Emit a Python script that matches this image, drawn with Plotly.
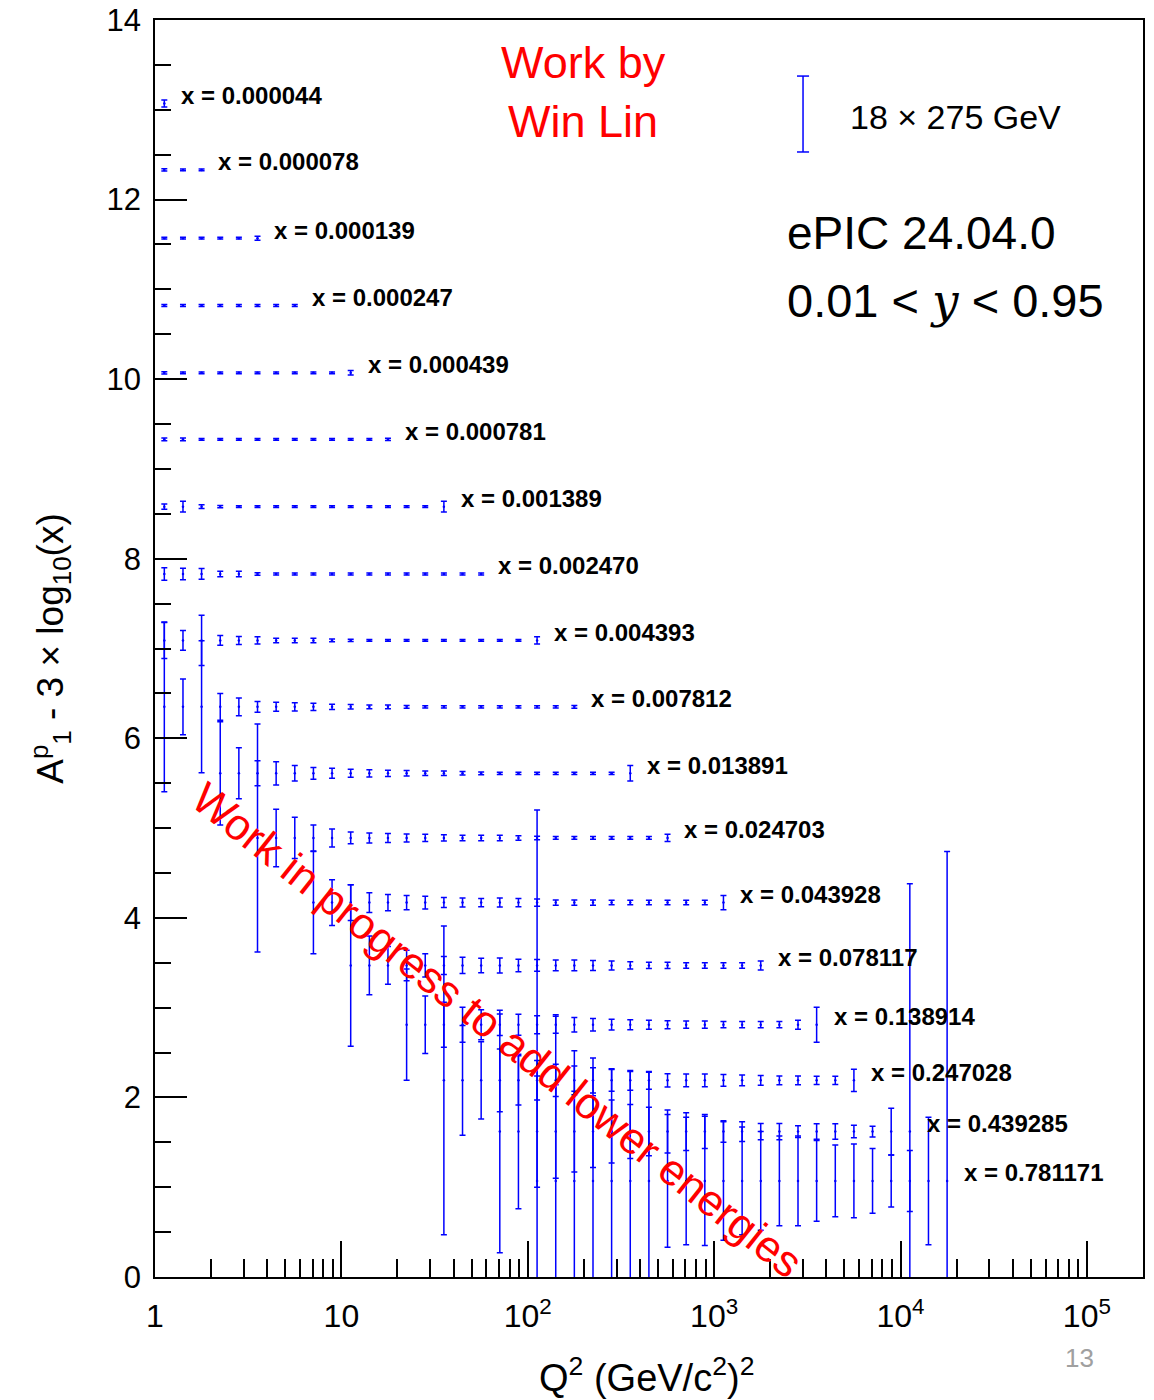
import plotly.graph_objects as go
import math

# Q^2 bin centres (GeV^2)
Q2_CENTERS = [1.122, 1.413, 1.778, 2.239, 2.818, 3.548, 4.467, 5.623, 7.079, 8.913,
              11.22, 14.13, 17.78, 22.39, 28.18, 35.48, 44.67, 56.23, 70.79, 89.13,
              112.2, 141.3, 177.8, 223.9, 281.8, 354.8, 446.7, 562.3, 707.9, 891.3,
              1122, 1413, 1778, 2239, 2818, 3548, 4467, 5623, 7079, 8913,
              11220, 14125, 17783]

ROW_X = ["0.000044", "0.000078", "0.000139", "0.000247", "0.000439", "0.000781",
         "0.001389", "0.002470", "0.004393", "0.007812", "0.013891", "0.024703",
         "0.043928", "0.078117", "0.138914", "0.247028", "0.439285", "0.781171"]

ROW_FIRST_BIN = [0, 0, 0, 0, 0, 0, 0, 0, 0, 0, 3, 5, 8, 10, 13, 15, 18, 20]

ROW_Y = [
    [13.07],
    [12.33, 12.33, 12.33],
    [11.57, 11.57, 11.57, 11.57, 11.57, 11.57],
    [10.82, 10.82, 10.82, 10.82, 10.82, 10.82, 10.82, 10.82],
    [10.07, 10.07, 10.07, 10.07, 10.07, 10.07, 10.07, 10.07, 10.07, 10.07, 10.07],
    [9.33, 9.33, 9.33, 9.33, 9.33, 9.33, 9.33, 9.33, 9.33, 9.33, 9.33, 9.33, 9.33],
    [8.58, 8.58, 8.58, 8.58, 8.58, 8.58, 8.58, 8.58, 8.58, 8.58, 8.58, 8.58, 8.58, 8.58, 8.58, 8.58],
    [7.83, 7.83, 7.83, 7.83, 7.83, 7.83, 7.83, 7.83, 7.83, 7.83, 7.83, 7.83, 7.83, 7.83, 7.83, 7.83,
     7.83, 7.83],
    [7.09, 7.09, 7.09, 7.09, 7.09, 7.09, 7.09, 7.09, 7.09, 7.09, 7.09, 7.09, 7.09, 7.09, 7.09, 7.09,
     7.09, 7.09, 7.09, 7.09, 7.09],
    [6.35, 6.35, 6.35, 6.35, 6.35, 6.35, 6.35, 6.35, 6.35, 6.35, 6.35, 6.35, 6.35, 6.35, 6.35, 6.35,
     6.35, 6.35, 6.35, 6.35, 6.35, 6.35, 6.35],
    [5.61, 5.61, 5.61, 5.61, 5.61, 5.61, 5.61, 5.61, 5.61, 5.61, 5.61, 5.61, 5.61, 5.61, 5.61, 5.61,
     5.61, 5.61, 5.61, 5.61, 5.61, 5.61, 5.61],
    [4.89, 4.89, 4.89, 4.89, 4.89, 4.89, 4.89, 4.89, 4.89, 4.89, 4.89, 4.89, 4.89, 4.89, 4.89, 4.89,
     4.89, 4.89, 4.89, 4.89, 4.89, 4.89, 4.89],
    [4.17, 4.17, 4.17, 4.17, 4.17, 4.17, 4.17, 4.17, 4.17, 4.17, 4.17, 4.17, 4.17, 4.17, 4.17, 4.17,
     4.17, 4.17, 4.17, 4.17, 4.17, 4.17, 4.17],
    [3.47, 3.47, 3.47, 3.47, 3.47, 3.47, 3.47, 3.47, 3.47, 3.47, 3.47, 3.47, 3.47, 3.47, 3.47, 3.47,
     3.47, 3.47, 3.47, 3.47, 3.47, 3.47, 3.47],
    [2.81, 2.81, 2.81, 2.81, 2.81, 2.81, 2.81, 2.81, 2.81, 2.81, 2.81, 2.81, 2.81, 2.81, 2.81, 2.81,
     2.81, 2.81, 2.81, 2.81, 2.81, 2.81, 2.81],
    [2.19, 2.19, 2.19, 2.19, 2.19, 2.19, 2.19, 2.19, 2.19, 2.19, 2.19, 2.19, 2.19, 2.19, 2.19, 2.19,
     2.19, 2.19, 2.19, 2.19, 2.19, 2.19, 2.19],
    [1.62, 1.62, 1.62, 1.62, 1.62, 1.62, 1.62, 1.62, 1.62, 1.62, 1.62, 1.62, 1.62, 1.62, 1.62, 1.62,
     1.62, 1.62, 1.62, 1.62, 1.62, 1.62, 1.62],
    [1.07, 1.07, 1.07, 1.07, 1.07, 1.07, 1.07, 1.07, 1.07, 1.07, 1.07, 1.07, 1.07, 1.07, 1.07, 1.07,
     1.07, 1.07, 1.07, 1.07, 1.07, 1.07, 1.07],
]

ROW_ERR = [
    [0.04],
    [0.012, 0.01, 0.01],
    [0.01, 0.01, 0.01, 0.01, 0.01, 0.022],
    [0.01, 0.01, 0.01, 0.01, 0.01, 0.01, 0.01, 0.012],
    [0.012, 0.01, 0.01, 0.01, 0.01, 0.01, 0.01, 0.01, 0.01, 0.01, 0.025],
    [0.015, 0.015, 0.01, 0.01, 0.01, 0.01, 0.01, 0.01, 0.01, 0.01, 0.01, 0.01, 0.012],
    [0.03, 0.06, 0.02, 0.012, 0.01, 0.01, 0.01, 0.01, 0.01, 0.01, 0.01, 0.01, 0.01, 0.01, 0.01, 0.06],
    [0.07, 0.065, 0.06, 0.03, 0.03, 0.015, 0.012, 0.01, 0.01, 0.01, 0.01, 0.01, 0.01, 0.01, 0.01, 0.01,
     0.01, 0.012],
    [0.2, 0.11, 0.28, 0.055, 0.045, 0.04, 0.025, 0.025, 0.025, 0.015, 0.012, 0.01, 0.01, 0.01, 0.01,
     0.01, 0.01, 0.01, 0.01, 0.01, 0.04],
    [0.945, 0.31, 0.735, 0.15, 0.1, 0.06, 0.05, 0.045, 0.04, 0.03, 0.025, 0.02, 0.02, 0.015, 0.012,
     0.012, 0.012, 0.012, 0.012, 0.012, 0.012, 0.012, 0.015],
    [0.575, 0.284, 0.14, 0.13, 0.087, 0.065, 0.055, 0.045, 0.04, 0.035, 0.03, 0.025, 0.025, 0.02, 0.015,
     0.012, 0.012, 0.012, 0.012, 0.012, 0.012, 0.012, 0.087],
    [1.27, 0.32, 0.23, 0.145, 0.1, 0.065, 0.055, 0.05, 0.045, 0.04, 0.035, 0.03, 0.03, 0.03, 0.025,
     0.02, 0.015, 0.015, 0.015, 0.015, 0.015, 0.015, 0.04],
    [0.57, 0.254, 0.2, 0.11, 0.09, 0.08, 0.07, 0.056, 0.05, 0.045, 0.05, 0.045, 0.04, 0.03, 0.03,
     0.03, 0.025, 0.025, 0.025, 0.025, 0.025, 0.025, 0.08],
    [0.9, 0.327, 0.21, 0.17, 0.13, 0.1, 0.09, 0.08, 0.083, 0.07, 0.065, 0.06, 0.06, 0.055, 0.05,
     0.04, 0.035, 0.035, 0.03, 0.03, 0.03, 0.03, 0.05],
    [0.62, 0.32, 0.25, 0.195, 0.167, 0.12, 0.117, 0.1, 0.095, 0.08, 0.07, 0.06, 0.055, 0.05, 0.045,
     0.04, 0.04, 0.035, 0.035, 0.035, 0.035, 0.05, 0.195],
    [1.72, 0.61, 0.43, 0.35, 0.275, 0.22, 0.18, 0.16, 0.14, 0.12, 0.11, 0.1, 0.074, 0.07, 0.07,
     0.065, 0.06, 0.055, 0.05, 0.05, 0.045, 0.045, 0.124],
    [1.35, 0.86, 0.62, 0.52, 0.45, 0.4, 0.35, 0.3, 0.27, 0.24, 0.21, 0.19, 0.12, 0.11, 0.09,
     0.09, 0.065, 0.087, 0.087, 0.07, 0.06, 0.26, 2.76],
    [4.13, 1.85, 1.45, 1.37, 1.25, 1.22, 1.21, 0.74, 0.71, 0.72, 0.66, 0.6, 0.55, 0.5, 0.5,
     0.45, 0.4, 0.41, 0.36, 0.29, 0.34, 0.71, 3.67],
]

X_TICKS = [1, 10, 100, 1000, 10000, 100000]
X_TICKTEXT = ["1", "10", "10<sup>2</sup>", "10<sup>3</sup>", "10<sup>4</sup>", "10<sup>5</sup>"]
X_MINOR = [m * d for d in [1, 10, 100, 1000, 10000, 100000] for m in range(2, 10)]

BLUE = "#0000ff"
FONT = "Liberation Sans, Arial, Helvetica, sans-serif"

fig = go.Figure()

for i in range(len(ROW_X)):
    k0 = ROW_FIRST_BIN[i]
    n = len(ROW_Y[i])
    xs = Q2_CENTERS[k0:k0 + n]
    fig.add_trace(go.Scatter(
        x=xs, y=ROW_Y[i], mode="markers",
        marker=dict(color=BLUE, size=2.5),
        error_y=dict(type="data", array=ROW_ERR[i], visible=True,
                     color=BLUE, thickness=1.5, width=3),
        showlegend=False, hoverinfo="skip"))
    # label to the right of last point
    xl = math.log10(xs[-1]) + 0.08
    fig.add_annotation(x=xl, y=ROW_Y[i][-1], xref="x", yref="y",
                       text="<b>x = " + ROW_X[i] + "</b>", showarrow=False,
                       xanchor="left", yanchor="middle", yshift=8,
                       font=dict(family=FONT, size=24, color="black"))

fig.update_xaxes(type="log", range=[0, math.log10(2e5)], automargin=False,
                 tickvals=X_TICKS, ticktext=X_TICKTEXT,
                 ticks="inside", ticklen=36, tickwidth=1.5, tickcolor="black",
                 showline=True, linecolor="black", linewidth=1.5, mirror=True,
                 showgrid=False, zeroline=False,
                 tickfont=dict(family=FONT, size=32, color="black"),
                 ticklabelstandoff=10,
                 minor=dict(tickvals=X_MINOR, ticks="inside", ticklen=18,
                            tickwidth=1.5, tickcolor="black", showgrid=False))
fig.update_yaxes(range=[0, 14], tick0=0, dtick=2, automargin=False,
                 ticks="inside", ticklen=32, tickwidth=1.5, tickcolor="black",
                 showline=True, linecolor="black", linewidth=1.5, mirror=True,
                 showgrid=False, zeroline=False,
                 tickfont=dict(family=FONT, size=31, color="black"),
                 ticklabelstandoff=6,
                 minor=dict(dtick=0.5, ticks="inside", ticklen=16,
                            tickwidth=1.5, tickcolor="black", showgrid=False))

# axis titles
fig.add_annotation(xref="paper", yref="paper", x=-0.106, y=0.50,
                   text="A<sup>p</sup><sub>1</sub> - 3 × log<sub>10</sub>(x)",
                   textangle=-90, showarrow=False, xanchor="center", yanchor="middle",
                   font=dict(family=FONT, size=37, color="black"))
fig.add_annotation(xref="paper", yref="paper", x=0.497, y=-0.078,
                   text="Q<sup>2</sup> (GeV/c<sup>2</sup>)<sup>2</sup>",
                   showarrow=False, xanchor="center", yanchor="middle",
                   font=dict(family=FONT, size=38, color="black"))

# texts
fig.add_annotation(xref="paper", yref="paper", x=0.4337, y=0.9427,
                   text="Work by<br>Win Lin", showarrow=False, align="center",
                   xanchor="center", yanchor="middle",
                   font=dict(family=FONT, size=45, color="red"))
fig.add_annotation(xref="paper", yref="paper", x=0.7014, y=0.9228,
                   text="18 × 275 GeV", showarrow=False,
                   xanchor="left", yanchor="middle",
                   font=dict(family=FONT, size=34, color="black"))
fig.add_annotation(xref="paper", yref="paper", x=0.6377, y=0.8305,
                   text="ePIC 24.04.0", showarrow=False,
                   xanchor="left", yanchor="middle",
                   font=dict(family=FONT, size=46, color="black"))
fig.add_annotation(xref="paper", yref="paper", x=0.6377, y=0.7772,
                   text="0.01 &lt; <span style='font-family:DejaVu Serif'><i>y</i></span> &lt; 0.95",
                   showarrow=False, xanchor="left", yanchor="middle",
                   font=dict(family=FONT, size=47, color="black"))
fig.add_annotation(xref="paper", yref="paper", x=0.3462, y=0.1965,
                   text="Work in progress to add lower energies", textangle=38.5,
                   showarrow=False, xanchor="center", yanchor="middle",
                   font=dict(family=FONT, size=44, color="red"))
fig.add_annotation(xref="paper", yref="paper", x=0.936, y=-0.0644,
                   text="13", showarrow=False, xanchor="center", yanchor="middle",
                   font=dict(family=FONT, size=26, color="#a0a0a0"))

# legend symbol (error bar)
LX, LY0, LY1, CAP = 0.6559, 0.895, 0.9554, 0.0061
fig.add_shape(type="line", xref="paper", yref="paper", x0=LX, x1=LX, y0=LY0, y1=LY1,
              line=dict(color=BLUE, width=1.5))
for yy in (LY0, LY1):
    fig.add_shape(type="line", xref="paper", yref="paper", x0=LX - CAP, x1=LX + CAP,
                  y0=yy, y1=yy, line=dict(color=BLUE, width=1.5))

fig.update_layout(width=1154, height=1400,
                  margin=dict(l=155, r=11, t=20, b=123, autoexpand=False),
                  plot_bgcolor="white", paper_bgcolor="white",
                  showlegend=False)

fig.write_html("out.html")
